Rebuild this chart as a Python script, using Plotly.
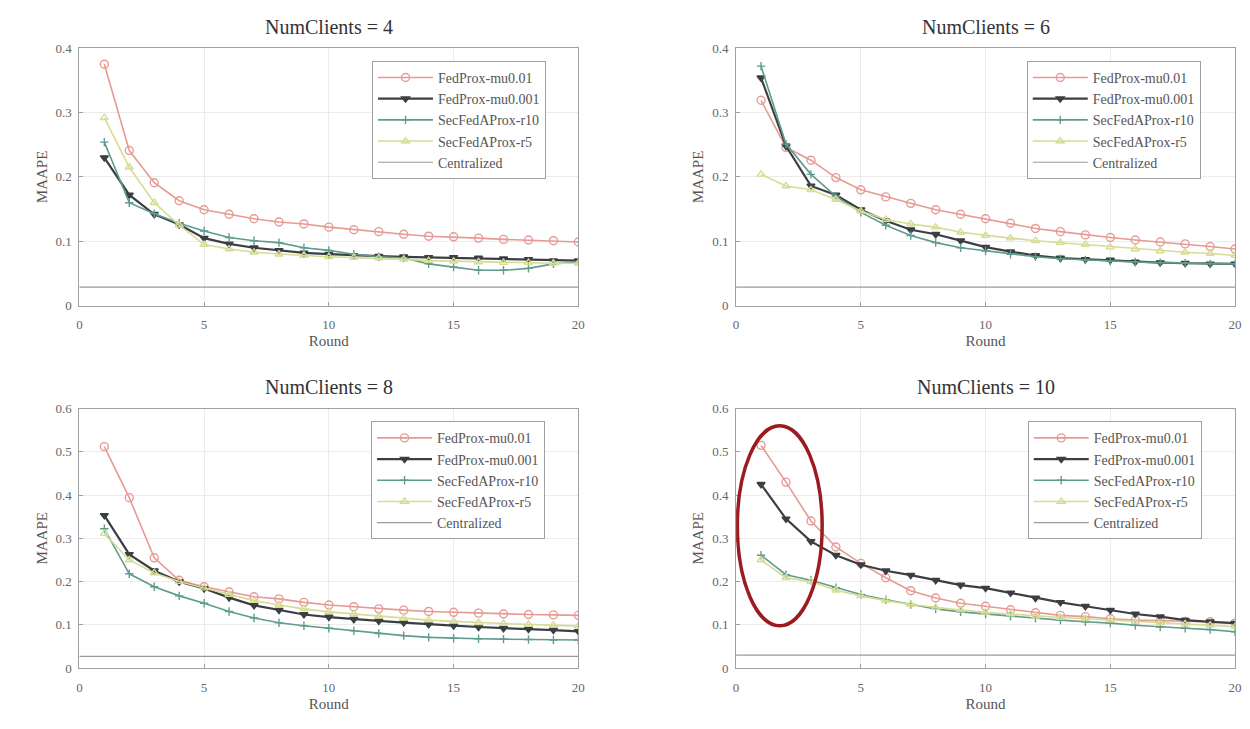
import plotly.graph_objects as go

# ---- data -------------------------------------------------------------
rounds = list(range(1, 21))
series_names = ["FedProx-mu0.01", "FedProx-mu0.001", "SecFedAProx-r10", "SecFedAProx-r5", "Centralized"]
panel_titles = ["NumClients = 4", "NumClients = 6", "NumClients = 8", "NumClients = 10"]

# NumClients = 4
c4_mu001 = [0.375, 0.241, 0.191, 0.163, 0.149, 0.142, 0.135, 0.130, 0.127, 0.122,
            0.118, 0.115, 0.111, 0.108, 0.107, 0.105, 0.103, 0.102, 0.101, 0.099]
c4_mu0001 = [0.230, 0.172, 0.142, 0.126, 0.105, 0.096, 0.090, 0.086, 0.082, 0.080,
             0.078, 0.077, 0.076, 0.075, 0.075, 0.074, 0.073, 0.072, 0.070, 0.070]
c4_r10 = [0.254, 0.160, 0.143, 0.128, 0.116, 0.106, 0.101, 0.098, 0.090, 0.086,
          0.080, 0.076, 0.074, 0.065, 0.060, 0.055, 0.055, 0.058, 0.065, 0.068]
c4_r5 = [0.292, 0.215, 0.160, 0.125, 0.095, 0.088, 0.083, 0.080, 0.078, 0.076,
         0.075, 0.074, 0.072, 0.070, 0.069, 0.068, 0.067, 0.067, 0.066, 0.066]
c4_central = 0.029

# NumClients = 6
c6_mu001 = [0.319, 0.246, 0.226, 0.199, 0.180, 0.169, 0.159, 0.149, 0.142, 0.135,
            0.128, 0.120, 0.115, 0.110, 0.106, 0.102, 0.099, 0.096, 0.092, 0.088]
c6_mu0001 = [0.354, 0.248, 0.186, 0.172, 0.149, 0.132, 0.118, 0.111, 0.101, 0.091,
             0.084, 0.078, 0.074, 0.072, 0.071, 0.068, 0.067, 0.066, 0.065, 0.065]
c6_r10 = [0.372, 0.251, 0.204, 0.170, 0.145, 0.125, 0.109, 0.098, 0.090, 0.085,
          0.080, 0.076, 0.073, 0.071, 0.069, 0.068, 0.067, 0.066, 0.065, 0.065]
c6_r5 = [0.204, 0.186, 0.180, 0.165, 0.147, 0.134, 0.127, 0.122, 0.114, 0.109,
         0.105, 0.101, 0.098, 0.095, 0.091, 0.088, 0.085, 0.083, 0.081, 0.078]
c6_central = 0.029

# NumClients = 8
c8_mu001 = [0.512, 0.394, 0.255, 0.203, 0.188, 0.176, 0.165, 0.160, 0.152, 0.146,
            0.142, 0.137, 0.134, 0.131, 0.129, 0.127, 0.125, 0.124, 0.123, 0.122]
c8_mu0001 = [0.353, 0.263, 0.225, 0.200, 0.184, 0.163, 0.145, 0.134, 0.124, 0.118,
             0.113, 0.109, 0.105, 0.101, 0.098, 0.095, 0.092, 0.090, 0.088, 0.085]
c8_r10 = [0.322, 0.218, 0.188, 0.167, 0.150, 0.131, 0.116, 0.105, 0.098, 0.092,
          0.086, 0.080, 0.075, 0.071, 0.069, 0.068, 0.067, 0.066, 0.065, 0.065]
c8_r5 = [0.311, 0.250, 0.220, 0.200, 0.185, 0.170, 0.156, 0.146, 0.137, 0.130,
         0.125, 0.120, 0.115, 0.111, 0.108, 0.105, 0.103, 0.101, 0.099, 0.097]
c8_central = 0.027

# NumClients = 10
c10_mu001 = [0.515, 0.430, 0.340, 0.280, 0.242, 0.209, 0.179, 0.162, 0.150, 0.143,
             0.135, 0.128, 0.122, 0.119, 0.114, 0.111, 0.110, 0.108, 0.107, 0.104]
c10_mu0001 = [0.425, 0.345, 0.293, 0.261, 0.239, 0.225, 0.215, 0.203, 0.192, 0.185,
              0.174, 0.162, 0.152, 0.143, 0.134, 0.125, 0.119, 0.111, 0.107, 0.104]
c10_r10 = [0.261, 0.216, 0.203, 0.186, 0.170, 0.158, 0.147, 0.137, 0.130, 0.125,
           0.120, 0.115, 0.111, 0.107, 0.104, 0.099, 0.095, 0.092, 0.089, 0.084]
c10_r5 = [0.250, 0.209, 0.200, 0.180, 0.167, 0.156, 0.147, 0.140, 0.134, 0.129,
          0.125, 0.120, 0.117, 0.114, 0.111, 0.107, 0.105, 0.102, 0.099, 0.096]
c10_central = 0.030

panels = [
    (c4_mu001, c4_mu0001, c4_r10, c4_r5, c4_central),
    (c6_mu001, c6_mu0001, c6_r10, c6_r5, c6_central),
    (c8_mu001, c8_mu0001, c8_r10, c8_r5, c8_central),
    (c10_mu001, c10_mu0001, c10_r10, c10_r5, c10_central),
]
y_max = [0.4, 0.4, 0.6, 0.6]
y_tick_step = 0.1
x_range = [0, 20]
x_ticks = [0, 5, 10, 15, 20]

# ---- styling ----------------------------------------------------------
W, H = 1250, 729
SERIF = "Liberation Serif"
styles = [
    dict(color="#e79a93", width=1.6, symbol="circle-open", size=8),
    dict(color="#3b3f44", width=2.2, symbol="triangle-down", size=7),
    dict(color="#5f9c8e", width=1.6, symbol="cross-thin-open", size=6),
    dict(color="#d6dc94", width=1.6, symbol="triangle-up-open", size=7),
    dict(color="#9a9a9a", width=1.2, symbol=None, size=0),
]

# axes boxes in pixels: (left, right, top, bottom)
boxes = [(77, 580, 42, 305), (739, 1242, 42, 305),
         (77, 580, 410, 675), (739, 1242, 410, 675)]
legend_pos = [(372, 55), (1032, 55), (371, 423), (1033, 423)]

fig = go.Figure()
layout = {}
annotations = []

for i, (vals, box) in enumerate(zip(panels, boxes)):
    k = "" if i == 0 else str(i + 1)
    xa, ya = "x" + k, "y" + k
    leg = "legend" + k
    for j, name in enumerate(series_names):
        st = styles[j]
        if j < 4:
            fig.add_trace(go.Scatter(
                x=rounds, y=vals[j], name=name, mode="lines+markers",
                xaxis=xa, yaxis=ya, legend=leg,
                line=dict(color=st["color"], width=st["width"]),
                marker=dict(symbol=st["symbol"], size=st["size"], color=st["color"],
                            line=dict(color=st["color"], width=1.4)),
            ))
        else:
            fig.add_trace(go.Scatter(
                x=x_range, y=[vals[j]] * len(x_range), name=name, mode="lines",
                xaxis=xa, yaxis=ya, legend=leg,
                line=dict(color=st["color"], width=st["width"]),
            ))

    l, r, t, b = box
    axis_common = dict(
        showline=True, mirror=True, linecolor="#a0a0a0", linewidth=1.2,
        ticks="inside", ticklen=4, tickcolor="#a0a0a0",
        showgrid=True, gridcolor="#ececec", gridwidth=1, zeroline=False,
        tickfont=dict(family=SERIF, size=13, color="#666666"),
    )
    layout["xaxis" + k] = dict(
        axis_common, domain=[l / W, r / W], anchor=ya, range=x_range,
        tickvals=x_ticks, ticklabelstandoff=7,
        title=dict(text="Round", font=dict(family=SERIF, size=15, color="#555555"), standoff=4),
    )
    n_steps = int(round(y_max[i] / y_tick_step))
    layout["yaxis" + k] = dict(
        axis_common, domain=[1 - b / H, 1 - t / H], anchor=xa,
        range=[0, y_max[i]], tickvals=[round(s * y_tick_step, 1) for s in range(n_steps + 1)],
        ticklabelstandoff=4,
        title=dict(text="MAAPE", font=dict(family=SERIF, size=15, color="#555555"), standoff=4),
    )
    lx, ly = legend_pos[i]
    layout[leg] = dict(
        x=lx / W, y=1 - ly / H, xanchor="left", yanchor="top",
        bgcolor="white", bordercolor="#a0a0a0", borderwidth=1,
        font=dict(family=SERIF, size=14, color="#555555"),
        itemwidth=55, tracegroupgap=0,
    )
    annotations.append(dict(
        text=panel_titles[i], xref="paper", yref="paper",
        x=(l + r) / 2 / W, y=1 - (t - 22) / H, xanchor="center", yanchor="middle",
        showarrow=False, font=dict(family=SERIF, size=20, color="#333333"),
    ))

# highlight around the early rounds of the NumClients = 10 panel
ellipse = dict(type="circle", xref="x4", yref="y4", x0=0.05, x1=3.45, y0=0.098, y1=0.56,
               line=dict(color="#9b1b20", width=3.5))

fig.update_layout(
    width=W, height=H, margin=dict(l=0, r=0, t=0, b=0),
    paper_bgcolor="white", plot_bgcolor="white",
    annotations=annotations, shapes=[ellipse], **layout,
)

fig.write_html("out.html")
